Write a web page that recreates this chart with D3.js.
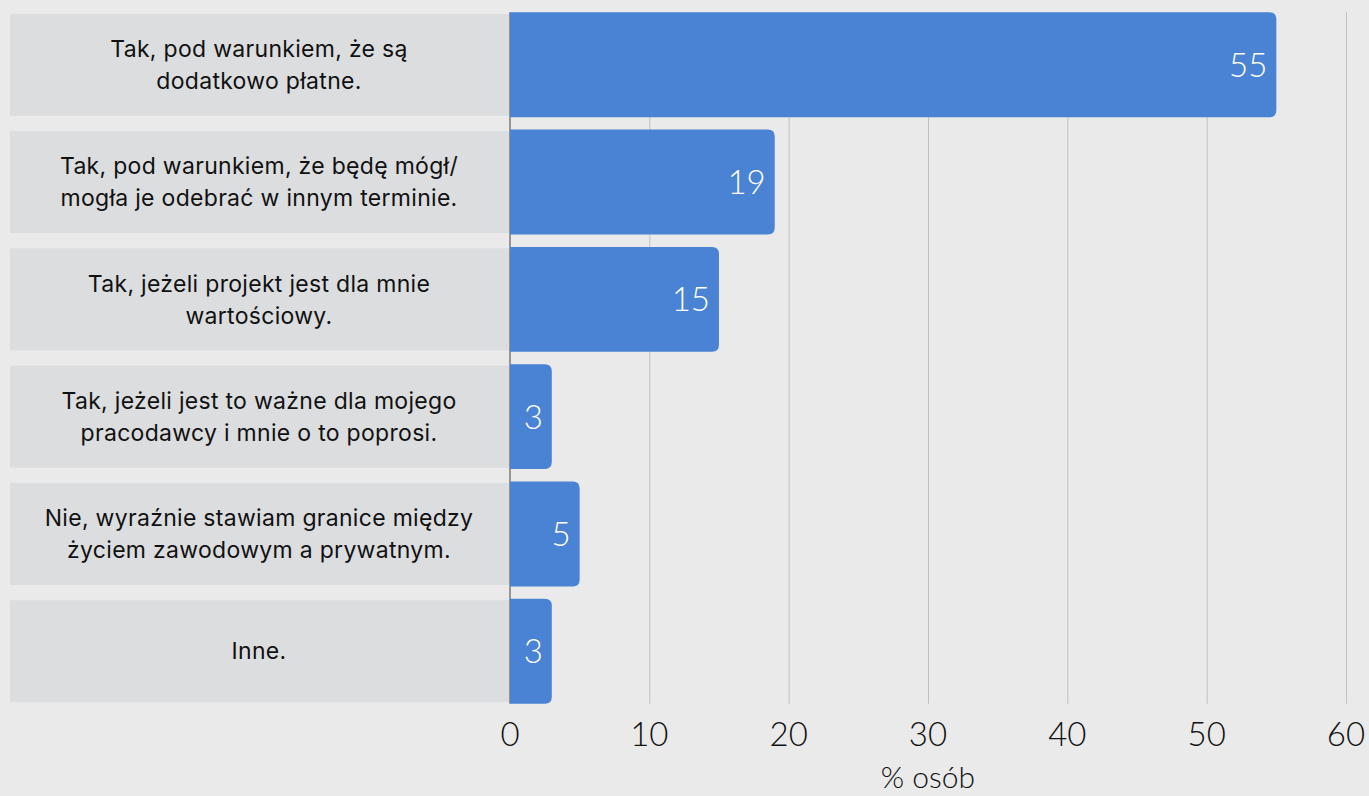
<!DOCTYPE html>
<meta charset="utf-8">
<script src="https://d3js.org/d3.v7.min.js"></script>
<style>
  body { margin: 0; background: #e9eae9; }
  svg { display: block; }
</style>
<div id="chart"></div>
<script>

// answers (already split into the two lines shown in the picture)
var categories = [
  ["Tak, pod warunkiem, że są", "dodatkowo płatne."],
  ["Tak, pod warunkiem, że będę mógł/", "mogła je odebrać w innym terminie."],
  ["Tak, jeżeli projekt jest dla mnie", "wartościowy."],
  ["Tak, jeżeli jest to ważne dla mojego", "pracodawcy i mnie o to poprosi."],
  ["Nie, wyraźnie stawiam granice między", "życiem zawodowym a prywatnym."],
  ["Inne."]
]
var values = [55, 19, 15, 3, 5, 3]
var xTicks = [0, 10, 20, 30, 40, 50, 60]
var xTitle = "% osób"

var width = 1369, height = 796

var svg = d3.select("#chart").append("svg")
  .attr("width", width)
  .attr("height", height)

svg.append("rect")
  .attr("width", width).attr("height", height)
  .attr("fill", "#e9eae9")

var ids = categories.map(function(d, i) { return i })

var x = d3.scaleLinear().domain([0, 60]).range([510, 1346])
var y = d3.scaleBand().domain(ids).range([0, 716]).padding(0.105)

var top0 = y(0), bottom0 = y(ids.length - 1) + y.bandwidth()

// label boxes on the left
svg.append("g").selectAll("rect")
  .data(ids).enter().append("rect")
    .attr("x", 10)
    .attr("y", function(d) { return y(d) + 1.5 })
    .attr("width", 500)
    .attr("height", y.bandwidth() - 3)
    .attr("fill", "#dcdddf")

// grid lines
svg.append("g").selectAll("line")
  .data(xTicks.slice(1)).enter().append("line")
    .attr("x1", function(d) { return x(d) + 0.5 })
    .attr("x2", function(d) { return x(d) + 0.5 })
    .attr("y1", top0)
    .attr("y2", bottom0)
    .attr("stroke", "#bfc0c0")
    .attr("stroke-width", 1)

// zero line
svg.append("line")
  .attr("x1", x(0)).attr("x2", x(0))
  .attr("y1", top0).attr("y2", bottom0)
  .attr("stroke", "#7a7a7a")
  .attr("stroke-width", 1.5)

// bars with rounded right corners
function barPath(i) {
  var x0 = x(0), x1 = x(values[i]), y0 = y(i), h = y.bandwidth()
  var r = Math.min(7, (x1 - x0) / 2)
  return "M" + x0 + "," + y0 +
    "H" + (x1 - r) +
    "Q" + x1 + "," + y0 + " " + x1 + "," + (y0 + r) +
    "V" + (y0 + h - r) +
    "Q" + x1 + "," + (y0 + h) + " " + (x1 - r) + "," + (y0 + h) +
    "H" + x0 + "Z"
}

svg.append("g").selectAll("path")
  .data(ids).enter().append("path")
    .attr("d", barPath)
    .attr("fill", "#4a82d4")

// value labels inside bars
svg.append("g").selectAll("text")
  .data(ids).enter().append("text")
    .attr("x", function(d) { return x(values[d]) - 9 })
    .attr("y", function(d) { return y(d) + y.bandwidth() / 2 })
    .attr("dy", "0.36em")
    .attr("text-anchor", "end")
    .attr("fill", "#ffffff")
    .style("font-family", "Lato, 'Open Sans', sans-serif")
    .style("font-weight", 300)
    .style("font-size", "33px")
    .text(function(d) { return values[d] })

// category labels
var lab = svg.append("g").selectAll("text")
  .data(ids).enter().append("text")
    .attr("text-anchor", "middle")
    .attr("fill", "#111111")
    .style("font-family", "Inter, 'Noto Sans', sans-serif")
    .style("font-size", "23px")
    .style("letter-spacing", "0.3px")

lab.each(function(d) {
  var lines = categories[d]
  var cy = y(d) + y.bandwidth() / 2
  var lh = 32
  var start = cy - (lines.length - 1) * lh / 2
  var t = d3.select(this)
  lines.forEach(function(line, k) {
    t.append("tspan")
      .attr("x", 259)
      .attr("y", start + k * lh)
      .attr("dy", "0.36em")
      .text(line)
  })
})

// x axis tick labels
svg.append("g").selectAll("text")
  .data(xTicks).enter().append("text")
    .attr("x", function(d) { return x(d) })
    .attr("y", 746)
    .attr("text-anchor", "middle")
    .attr("fill", "#111111")
    .style("font-family", "Lato, 'Open Sans', sans-serif")
    .style("font-weight", 300)
    .style("font-size", "33px")
    .text(function(d) { return d })

// axis title
svg.append("text")
  .attr("x", (x(0) + x(60)) / 2)
  .attr("y", 788)
  .attr("text-anchor", "middle")
  .attr("fill", "#111111")
  .style("font-family", "Lato, 'Open Sans', sans-serif")
  .style("font-weight", 300)
  .style("font-size", "30px")
  .text(xTitle)

</script>
